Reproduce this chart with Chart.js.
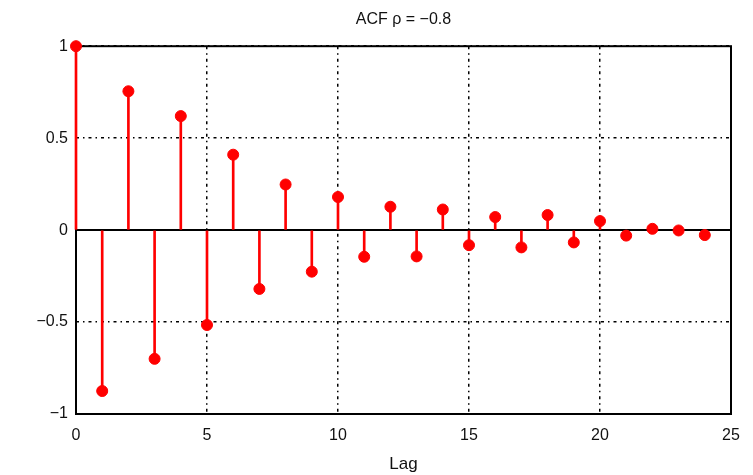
<!DOCTYPE html>
<html><head><meta charset="utf-8">
<script src="https://cdn.jsdelivr.net/npm/chart.js@4/dist/chart.umd.min.js"></script>
<style>html,body{margin:0;padding:0;background:#fff}#wrap{width:753px;height:475px}</style>
</head><body><div id="wrap"><canvas id="c" width="753" height="475"></canvas></div>
<script>
const lags = [0,1,2,3,4,5,6,7,8,9,10,11,12,13,14,15,16,17,18,19,20,21,22,23,24];
const acf  = [1,-0.875,0.755,-0.70,0.62,-0.516,0.41,-0.32,0.248,-0.226,0.18,-0.145,0.127,-0.143,0.112,-0.082,0.071,-0.094,0.082,-0.067,0.049,-0.03,0.007,-0.002,-0.027];
const xTickValues = [0,5,10,15,20,25];
const yTickValues = [-1,-0.5,0,0.5,1];
const titleText = 'ACF \u03C1 = \u22120.8';
const xLabel = 'Lag';

const pts = lags.map((l,i)=>({x:l,y:acf[i]}));
const fmt = v => String(v).replace('-', '\u2212');
const FONT = 'Liberation Sans, Arial, Helvetica, sans-serif';

const framePlugin = {
  id:'frame',
  beforeDatasetsDraw(chart){
    const {ctx, chartArea:a} = chart;
    ctx.save();
    ctx.strokeStyle = '#000';
    ctx.lineWidth = 2;
    ctx.strokeRect(a.left, a.top, a.right-a.left, a.bottom-a.top);
    ctx.restore();
  }
};

new Chart(document.getElementById('c'), {
  type:'bar',
  data:{
    datasets:[
      {type:'line', data:[{x:0,y:0},{x:25,y:0}], borderColor:'#000', borderWidth:2, pointRadius:0, order:3, clip:false},
      {type:'bar', data:pts, backgroundColor:'#ff0000', barThickness:2, order:2, clip:false},
      {type:'scatter', data:pts, backgroundColor:'#ff0000', borderColor:'#ff0000', pointRadius:5.5, pointHoverRadius:5.5, order:1, clip:false}
    ]
  },
  options:{
    responsive:false, animation:false, devicePixelRatio:1,
    layout:{padding:{left:0,right:22,top:0,bottom:0}},
    plugins:{
      legend:{display:false}, tooltip:{enabled:false},
      title:{display:true, text:titleText, fullSize:false, color:'#111',
        font:{family:FONT, size:16, weight:'normal'}, padding:{top:10,bottom:17}}
    },
    scales:{
      x:{type:'linear', min:0, max:25, offset:false,
        afterBuildTicks(s){ s.ticks = xTickValues.map(v=>({value:v})); },
        afterFit(s){ s.height = 61; },
        ticks:{color:'#111', font:{family:FONT,size:16}, padding:12, maxRotation:0, autoSkip:false, callback:fmt},
        grid:{color:'#000', lineWidth:1.5, drawTicks:false, offset:false},
        border:{display:false, dash:[3,4,1.5,4]},
        title:{display:true, text:xLabel, color:'#111', font:{family:FONT,size:17}, padding:{top:2,bottom:0}}
      },
      y:{type:'linear', min:-1, max:1,
        afterBuildTicks(s){ s.ticks = yTickValues.map(v=>({value:v})); },
        afterFit(s){ s.width = 76; },
        ticks:{color:'#111', font:{family:FONT,size:16}, padding:8, autoSkip:false, callback:fmt},
        grid:{color:'#000', lineWidth:1.5, drawTicks:false},
        border:{display:false, dash:[3,4,1.5,4]}
      }
    }
  },
  plugins:[framePlugin]
});
</script></body></html>
